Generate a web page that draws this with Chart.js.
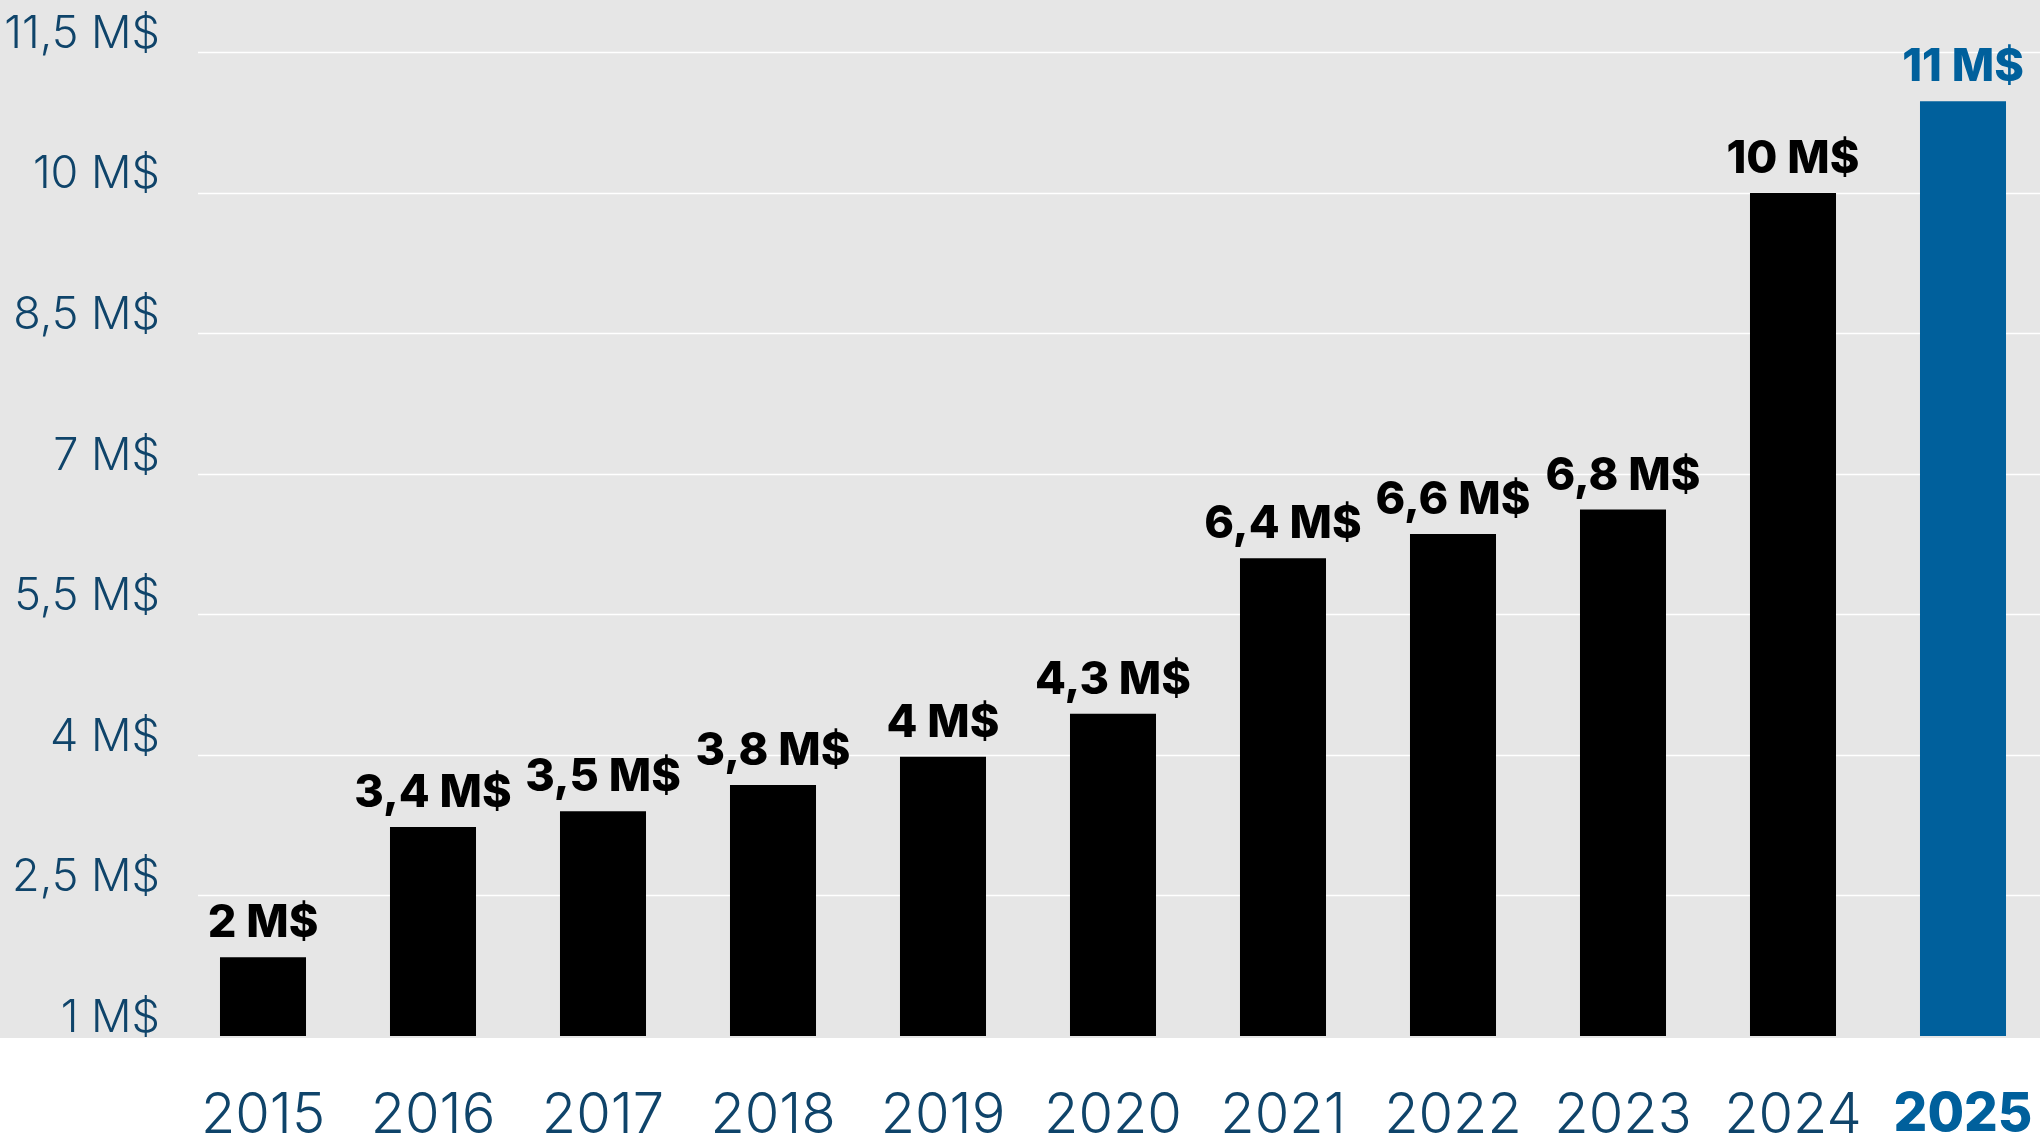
<!DOCTYPE html>
<html lang="es">
<head>
    <meta charset="UTF-8">
    <title>Ingresos por año</title>
    <script src="https://cdn.jsdelivr.net/npm/chart.js"></script>
    <style>
        html, body { margin: 0; padding: 0; background: #fff; }
        .wrap { width: 2040px; height: 1137px; position: relative; }
    </style>
</head>
<body>
    <div class="wrap"><canvas id="chart"></canvas></div>
    <script>
        // datos
        const years = ['2015', '2016', '2017', '2018', '2019', '2020', '2021', '2022', '2023', '2024', '2025'];
        const values = [1.84, 3.23, 3.40, 3.68, 3.98, 4.44, 6.10, 6.36, 6.62, 10.0, 10.98];
        const valueLabels = ['2 M$', '3,4 M$', '3,5 M$', '3,8 M$', '4 M$', '4,3 M$', '6,4 M$', '6,6 M$', '6,8 M$', '10 M$', '11 M$'];
        const tickValues = [1, 2.5, 4, 5.5, 7, 8.5, 10, 11.5];
        const tickLabels = ['1 M$', '2,5 M$', '4 M$', '5,5 M$', '7 M$', '8,5 M$', '10 M$', '11,5 M$'];

        const navy = '#0f446a';
        const blue = '#00609c';
        const last = years.length - 1;

        // fondo gris, líneas de la cuadrícula y etiquetas encima de las barras
        const decor = {
            id: 'decor',
            afterLayout(chart) {
                // la última barra queda un poco cortada por el borde derecho
                const x = chart.scales.x;
                x.right += 8;
                x.width += 8;
                chart.chartArea.right += 8;
                chart.chartArea.width += 8;
                x.configure();
            },
            beforeDraw(chart) {
                const { ctx, chartArea, width } = chart;
                ctx.save();
                ctx.fillStyle = '#e6e6e6';
                ctx.fillRect(0, 0, width, chartArea.bottom + 2);
                ctx.restore();
            },
            beforeDatasetsDraw(chart) {
                const { ctx, chartArea, width } = chart;
                const y = chart.scales.y;
                ctx.save();
                ctx.strokeStyle = '#ffffff';
                ctx.lineWidth = 1.6;
                y.ticks.forEach(t => {
                    if (t.value === y.min) return;
                    const py = Math.round(y.getPixelForValue(t.value)) + 0.5;
                    ctx.beginPath();
                    ctx.moveTo(chartArea.left + 20, py);
                    ctx.lineTo(width, py);
                    ctx.stroke();
                });
                ctx.restore();
            },
            afterDatasetsDraw(chart) {
                const { ctx } = chart;
                const bars = chart.getDatasetMeta(0).data;
                ctx.save();
                ctx.font = '800 45px Inter';
                ctx.textAlign = 'center';
                ctx.textBaseline = 'alphabetic';
                bars.forEach((bar, i) => {
                    ctx.fillStyle = i === last ? blue : '#000';
                    ctx.fillText(valueLabels[i], bar.x, bar.y - 20);
                });
                ctx.restore();
            }
        };

        new Chart(document.getElementById('chart'), {
            type: 'bar',
            data: {
                labels: years,
                datasets: [{
                    data: values,
                    backgroundColor: years.map((_, i) => i === last ? blue : '#000'),
                    barPercentage: 0.506,
                    categoryPercentage: 1
                }]
            },
            options: {
                responsive: true,
                maintainAspectRatio: false,
                animation: false,
                devicePixelRatio: 1,
                layout: { padding: 0 },
                plugins: { legend: { display: false }, tooltip: { enabled: false } },
                scales: {
                    x: {
                        grid: { display: false },
                        border: { display: false },
                        afterFit(scale) {
                            scale.height = 101;
                            scale.paddingLeft = 0;
                            scale.paddingRight = 0;
                        },
                        ticks: {
                            padding: 39,
                            maxRotation: 0,
                            color: ctx => ctx.index === last ? blue : navy,
                            font: ctx => ctx.index === last
                                ? { family: 'Inter', size: 53, weight: '800' }
                                : { family: 'Inter', size: 56, weight: '300' }
                        }
                    },
                    y: {
                        min: 1,
                        max: 12.06,
                        grid: { display: false, tickLength: 0 },
                        border: { display: false },
                        afterFit(scale) {
                            scale.width = 178;
                            scale.paddingTop = 0;
                            scale.paddingBottom = 0;
                        },
                        afterBuildTicks(scale) {
                            scale.ticks = tickValues.map(v => ({ value: v }));
                        },
                        ticks: {
                            padding: 18,
                            labelOffset: -18,
                            color: navy,
                            font: { family: 'Inter', size: 45, weight: '300' },
                            callback: v => tickLabels[tickValues.indexOf(v)]
                        }
                    }
                }
            },
            plugins: [decor]
        });
    </script>
</body>
</html>
